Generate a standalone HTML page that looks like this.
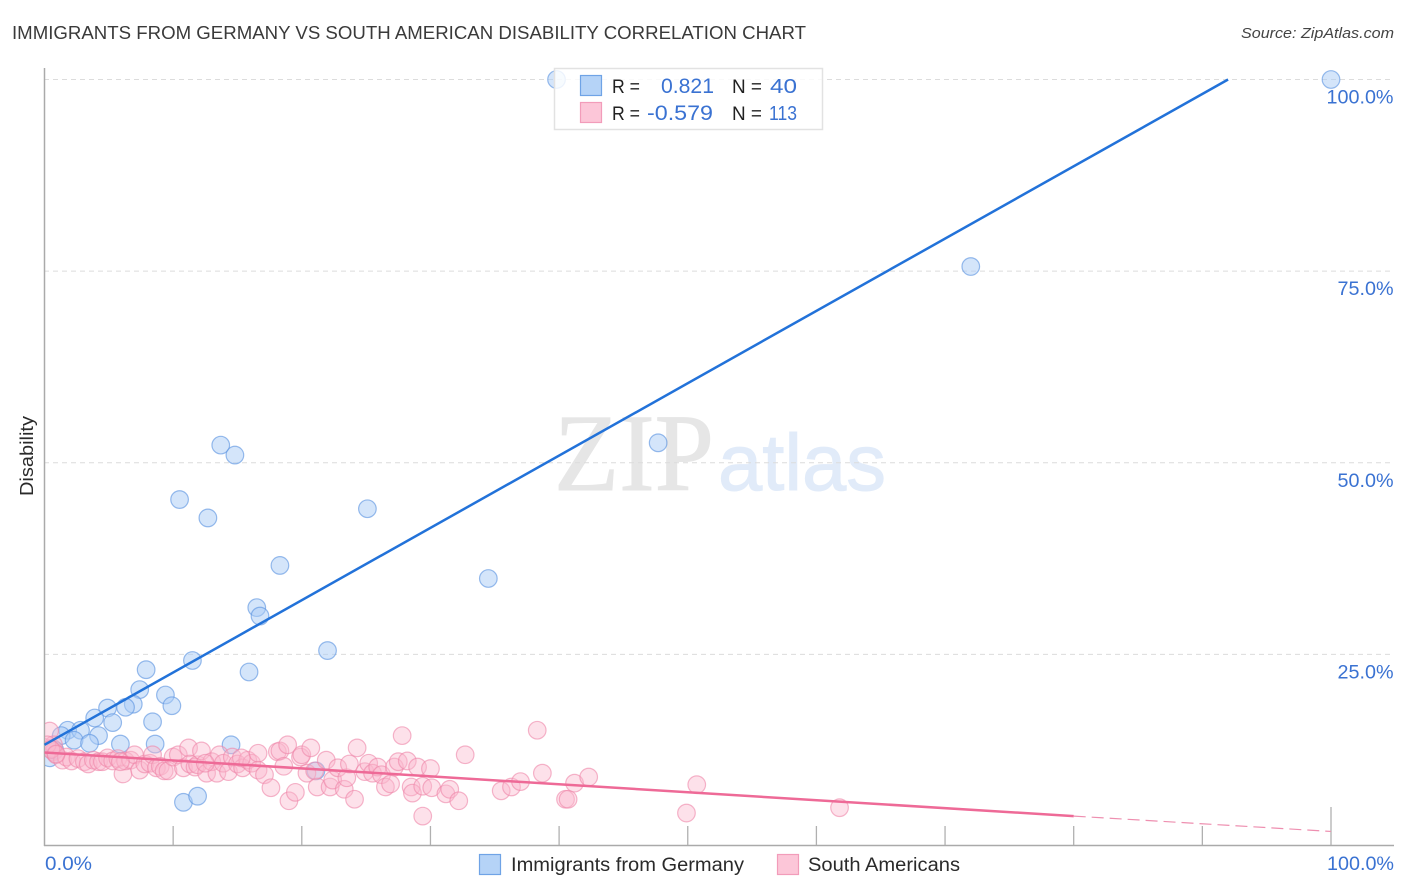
<!DOCTYPE html>
<html lang="en">
<head>
<meta charset="utf-8">
<title>Immigrants from Germany vs South American Disability Correlation Chart</title>
<style>
html,body{margin:0;padding:0;background:#fff;width:1406px;height:892px;overflow:hidden}
svg{display:block}
text{font-family:"Liberation Sans",sans-serif}
</style>
</head>
<body>
<svg id="chart" xmlns="http://www.w3.org/2000/svg" width="1406" height="892" viewBox="0 0 1406 892">
  <defs>
    <clipPath id="plot-clip"><rect x="45" y="60" width="1361" height="786"/></clipPath>
  </defs>
  <text x="12" y="39" font-size="18.5" fill="#3a3a3a" textLength="794" lengthAdjust="spacingAndGlyphs">IMMIGRANTS FROM GERMANY VS SOUTH AMERICAN DISABILITY CORRELATION CHART</text>
  <text x="1241" y="38" font-size="15" font-style="italic" fill="#444" textLength="153" lengthAdjust="spacingAndGlyphs">Source: ZipAtlas.com</text>
  <text transform="translate(33,496) rotate(-90)" font-size="18" fill="#2a2a2a" textLength="80" lengthAdjust="spacingAndGlyphs">Disability</text>

  <g>
    <text x="554" y="490" font-size="110" fill="#e6e6e6" stroke="#e6e6e6" stroke-width="1" style="font-family:'Liberation Serif',serif" textLength="160" lengthAdjust="spacingAndGlyphs">ZIP</text>
    <text x="718" y="490" font-size="80" fill="#e1ebf9" stroke="#e1ebf9" stroke-width="1" textLength="168" lengthAdjust="spacingAndGlyphs">atlas</text>
  </g>

  <g id="grid"></g>
  <g id="axes"></g>
  <g id="blue-points" clip-path="url(#plot-clip)"></g>
  <g id="pink-points" clip-path="url(#plot-clip)"></g>
  <g id="trends"></g>
  <g id="tick-labels"></g>

  <g>
    <rect x="554.5" y="68.5" width="268" height="61" fill="#fff" fill-opacity="0.82" stroke="#e2e2e2" stroke-width="1.5"/>
    <rect x="580.5" y="75.5" width="21" height="20" fill="#b5d3f7" stroke="#6fa3e6" stroke-width="1.2"/>
    <rect x="580.5" y="102.5" width="21" height="20" fill="#fcc6d8" stroke="#f29cba" stroke-width="1.2"/>
    <text x="612" y="93" font-size="19" fill="#222" textLength="28" lengthAdjust="spacingAndGlyphs">R =</text>
    <text x="661" y="93" font-size="21" fill="#3a72d2" textLength="53" lengthAdjust="spacingAndGlyphs">0.821</text>
    <text x="732" y="93" font-size="19" fill="#222" textLength="30" lengthAdjust="spacingAndGlyphs">N =</text>
    <text x="770" y="93" font-size="20.5" fill="#3a72d2" textLength="27" lengthAdjust="spacingAndGlyphs">40</text>
    <text x="612" y="120" font-size="19" fill="#222" textLength="28" lengthAdjust="spacingAndGlyphs">R =</text>
    <text x="647" y="120" font-size="21" fill="#3a72d2" textLength="66" lengthAdjust="spacingAndGlyphs">-0.579</text>
    <text x="732" y="120" font-size="19" fill="#222" textLength="30" lengthAdjust="spacingAndGlyphs">N =</text>
    <text x="769" y="120" font-size="20.5" fill="#3a72d2" textLength="28" lengthAdjust="spacingAndGlyphs">113</text>
  </g>

  <g>
    <rect x="479.5" y="854.5" width="21" height="20" fill="#b5d3f7" stroke="#6fa3e6" stroke-width="1.2"/>
    <text x="511" y="871" font-size="19" fill="#2a2a2a" textLength="233" lengthAdjust="spacingAndGlyphs">Immigrants from Germany</text>
    <rect x="777.5" y="854.5" width="21" height="20" fill="#fcc6d8" stroke="#f29cba" stroke-width="1.2"/>
    <text x="808" y="871" font-size="19" fill="#2a2a2a" textLength="152" lengthAdjust="spacingAndGlyphs">South Americans</text>
  </g>
</svg>
<script>
const germanyX = [39.8,100,72.0,47.7,13.7,14.8,10.5,12.7,25.1,18.3,34.5,16.5,16.75,22.0,11.5,7.9,15.9,7.4,9.4,9.9,4.9,6.9,6.3,3.9,5.3,8.4,1.8,2.8,4.2,1.3,2.3,3.5,5.9,8.6,14.5,10.8,11.9,21.1,0.4,0.8];
const germanyY = [100,100,75.6,52.6,52.3,51.0,45.2,42.8,44.0,36.6,34.9,31.1,30.0,25.5,24.2,23.0,22.7,20.4,19.7,18.3,18.0,18.5,18.1,16.7,16.1,16.2,15.1,15.1,14.4,14.4,13.8,13.4,13.3,13.3,13.2,5.7,6.5,9.8,11.5,12.5];
const southX = [0.4,0.6,0.7,0.9,0.7,1.4,1.7,2.1,2.6,3.1,3.4,3.8,4.2,4.5,4.9,5.3,5.7,6.1,6.3,6.7,7.0,7.4,7.8,8.2,8.4,8.7,9.0,9.3,9.6,10.0,10.4,10.8,11.2,11.3,11.7,11.9,12.2,12.6,13.0,13.4,13.6,13.9,14.3,14.6,15.0,15.4,15.8,16.1,16.6,16.6,17.1,17.6,18.1,18.3,18.6,18.9,19.0,19.5,19.9,20.0,20.4,20.7,21.0,21.2,21.9,22.2,22.4,22.8,23.3,23.5,23.7,24.1,24.3,24.9,25.2,25.5,25.9,26.2,26.5,26.9,27.2,27.5,27.8,28.2,28.5,28.6,29.0,29.4,29.4,30.0,30.1,31.2,31.5,32.2,32.7,35.5,36.3,37.0,38.3,38.7,40.5,40.7,41.2,42.3,49.9,50.7,61.8,0.2,0.5,0.9,5.9,12.5,15.3];
const southY = [15.0,12.8,12.3,11.9,13.2,11.2,11.6,11.1,11.4,11.0,10.7,11.2,11.0,11.0,11.5,11.1,11.4,9.4,11.1,11.2,11.9,9.9,10.7,10.8,11.9,10.2,10.4,9.8,9.8,11.6,11.9,10.2,12.8,10.7,10.3,10.6,12.4,9.5,11.0,9.5,11.9,10.8,9.7,11.6,10.7,10.2,11.2,10.8,12.1,9.9,9.3,7.6,12.3,12.4,10.4,13.2,5.9,7.0,11.6,11.9,9.5,12.8,9.8,7.7,11.2,7.7,8.6,10.2,7.4,8.9,10.7,6.1,12.8,9.7,10.8,9.5,10.3,9.3,7.7,8.1,10.3,11.0,14.4,11.1,7.7,6.9,10.3,3.9,7.8,10.1,7.6,6.8,7.4,5.9,11.9,7.2,7.7,8.4,15.1,9.5,6.1,6.1,8.2,9.0,4.3,8.0,5.0,13.2,12.6,12.0,11.0,10.8,11.5];
const germanyTrendX = [0,92];
const germanyTrendY = [13.2,100];
const southTrendSolidX = [0,80];
const southTrendSolidY = [12.2,3.9];
const southTrendDashX = [80,100];
const southTrendDashY = [3.9,1.9];
const yTickValues = [25,50,75,100];
const yTickLabels = ["25.0%","50.0%","75.0%","100.0%"];
const xTickValues = [10,20,30,40,50,60,70,80,90,100];

const NS = "http://www.w3.org/2000/svg";
const sx = v => 44.5 + v * 12.865;
const sy = v => 846 - v * 7.665;
const make = (tag, attrs, parent) => {
  const el = document.createElementNS(NS, tag);
  for (const k in attrs) el.setAttribute(k, attrs[k]);
  parent.appendChild(el);
  return el;
};
const grid = document.getElementById('grid');
const axes = document.getElementById('axes');
const tickLabels = document.getElementById('tick-labels');
const bluePoints = document.getElementById('blue-points');
const pinkPoints = document.getElementById('pink-points');
const trends = document.getElementById('trends');

yTickValues.forEach((v, i) => {
  const gl = make('line', {x1: 44, x2: 1394, y1: sy(v), y2: sy(v), stroke: '#dcdcdc', 'stroke-width': 1, 'stroke-dasharray': '5 4'}, grid);
  
  
  const t = make('text', {x: 1393.5, y: sy(v) + 24, 'text-anchor': 'end', 'font-size': 19, fill: '#3a72d2', textLength: yTickLabels[i].length === 6 ? 67 : 56, lengthAdjust: 'spacingAndGlyphs'}, tickLabels);
  t.textContent = yTickLabels[i];
  
  
});

const yAxis = make('line', {x1: 44.5, x2: 44.5, y1: 68, y2: 846, stroke: '#aaa', 'stroke-width': 1.5}, axes);


const xAxis = make('line', {x1: 44, x2: 1394, y1: 845.5, y2: 845.5, stroke: '#aaa', 'stroke-width': 1.5}, axes);



xTickValues.forEach(v => {
  const top = v === 100 ? 807 : 826;
  const tick = make('line', {x1: sx(v), x2: sx(v), y1: top, y2: 845, stroke: '#b0b0b0', 'stroke-width': 1.3}, axes);
  
  
});

const xLabelLeft = make('text', {x: 45, y: 870, 'font-size': 19, fill: '#3a72d2', textLength: 47, lengthAdjust: 'spacingAndGlyphs'}, tickLabels);
xLabelLeft.textContent = '0.0%';


const xLabelRight = make('text', {x: 1327, y: 870, 'font-size': 19, fill: '#3a72d2', textLength: 67, lengthAdjust: 'spacingAndGlyphs'}, tickLabels);
xLabelRight.textContent = '100.0%';



germanyX.forEach((v, i) => {
  const c = make('circle', {cx: sx(v), cy: sy(germanyY[i]), r: 8.8, fill: '#a9cbf5', 'fill-opacity': 0.5, stroke: '#5b93e0', 'stroke-opacity': 0.62, 'stroke-width': 1.2}, bluePoints);
  
  
});
southX.forEach((v, i) => {
  const c = make('circle', {cx: sx(v), cy: sy(southY[i]), r: 8.8, fill: '#fab8cd', 'fill-opacity': 0.42, stroke: '#ee85a8', 'stroke-opacity': 0.6, 'stroke-width': 1.2}, pinkPoints);
  
  
});

const blueTrend = make('line', {x1: sx(germanyTrendX[0]), y1: sy(germanyTrendY[0]), x2: sx(germanyTrendX[1]), y2: sy(germanyTrendY[1]), stroke: '#2272d9', 'stroke-width': 2.5}, trends);


const pinkTrend = make('line', {x1: sx(southTrendSolidX[0]), y1: sy(southTrendSolidY[0]), x2: sx(southTrendSolidX[1]), y2: sy(southTrendSolidY[1]), stroke: '#ee6a97', 'stroke-width': 2.5}, trends);


const pinkDash = make('line', {x1: sx(southTrendDashX[0]), y1: sy(southTrendDashY[0]), x2: sx(southTrendDashX[1]), y2: sy(southTrendDashY[1]), stroke: '#ee8fb0', 'stroke-width': 1.2, 'stroke-dasharray': '12 6'}, trends);


</script>
</body>
</html>
